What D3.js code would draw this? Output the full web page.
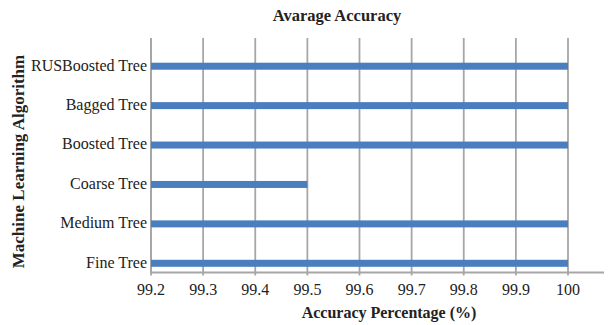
<!DOCTYPE html>
<html>
<head>
<meta charset="utf-8">
<script src="https://cdn.jsdelivr.net/npm/d3@7"></script>
<style>
  body { margin: 0; background: #fff; }
  text { font-family: "Liberation Serif", "Times New Roman", serif; fill: #222; }
</style>
</head>
<body>
<div id="chart"></div>
<script>
var algorithms = ["RUSBoosted Tree", "Bagged Tree", "Boosted Tree", "Coarse Tree", "Medium Tree", "Fine Tree"];
var accuracy = [100, 100, 100, 99.5, 100, 100];
var xTicks = [99.2, 99.3, 99.4, 99.5, 99.6, 99.7, 99.8, 99.9, 100];

var width = 608, height = 325;
var plotLeft = 151, plotRight = 568, plotTop = 38, plotBottom = 272.5;

var svg = d3.select("#chart")
  .append("svg")
    .attr("width", width)
    .attr("height", height);

var x = d3.scaleLinear()
  .domain([99.2, 100])
  .range([plotLeft, plotRight]);

var y = d3.scaleBand()
  .domain(algorithms)
  .range([46.5, 283]);

// vertical gridlines, running a little below the axis as ticks
svg.append("g")
  .selectAll("line")
  .data(xTicks)
  .enter()
  .append("line")
    .attr("x1", function(d) { return x(d); })
    .attr("x2", function(d) { return x(d); })
    .attr("y1", plotTop)
    .attr("y2", plotBottom + 3)
    .attr("stroke", "#a6a6a6")
    .attr("stroke-width", 1.8);

// axis lines
svg.append("line")
  .attr("x1", plotLeft).attr("x2", 604)
  .attr("y1", plotBottom).attr("y2", plotBottom)
  .attr("stroke", "#a6a6a6").attr("stroke-width", 1.8);
svg.append("line")
  .attr("x1", plotLeft).attr("x2", plotLeft)
  .attr("y1", plotTop).attr("y2", plotBottom)
  .attr("stroke", "#a6a6a6").attr("stroke-width", 1.8);

// bars
svg.append("g")
  .selectAll("rect")
  .data(algorithms)
  .enter()
  .append("rect")
    .attr("x", x(99.2))
    .attr("y", function(d) { return y(d) + y.bandwidth() / 2 - 3.5; })
    .attr("width", function(d, i) { return x(accuracy[i]) - x(99.2); })
    .attr("height", 7)
    .attr("fill", "#4a7ebf");

// x tick labels
svg.append("g")
  .selectAll("text")
  .data(xTicks)
  .enter()
  .append("text")
    .attr("x", function(d) { return x(d); })
    .attr("y", 295)
    .attr("text-anchor", "middle")
    .style("font-size", "16px")
    .text(function(d) { return d; });

// y labels
svg.append("g")
  .selectAll("text")
  .data(algorithms)
  .enter()
  .append("text")
    .attr("x", 147)
    .attr("y", function(d) { return y(d) + y.bandwidth() / 2; })
    .attr("dy", "0.27em")
    .attr("text-anchor", "end")
    .style("font-size", "16px")
    .text(function(d) { return d; });

svg.append("text")
  .attr("x", 337)
  .attr("y", 21)
  .attr("text-anchor", "middle")
  .style("font-size", "16.5px")
  .style("font-weight", "bold")
  .text("Avarage Accuracy");

svg.append("text")
  .attr("x", 389)
  .attr("y", 318)
  .attr("text-anchor", "middle")
  .style("font-size", "16px")
  .style("font-weight", "bold")
  .text("Accuracy Percentage (%)");

svg.append("text")
  .attr("transform", "rotate(-90)")
  .attr("x", -161.5)
  .attr("y", 24)
  .attr("text-anchor", "middle")
  .style("font-size", "17px")
  .style("font-weight", "bold")
  .text("Machine Learning Algorithm");
</script>
</body>
</html>
